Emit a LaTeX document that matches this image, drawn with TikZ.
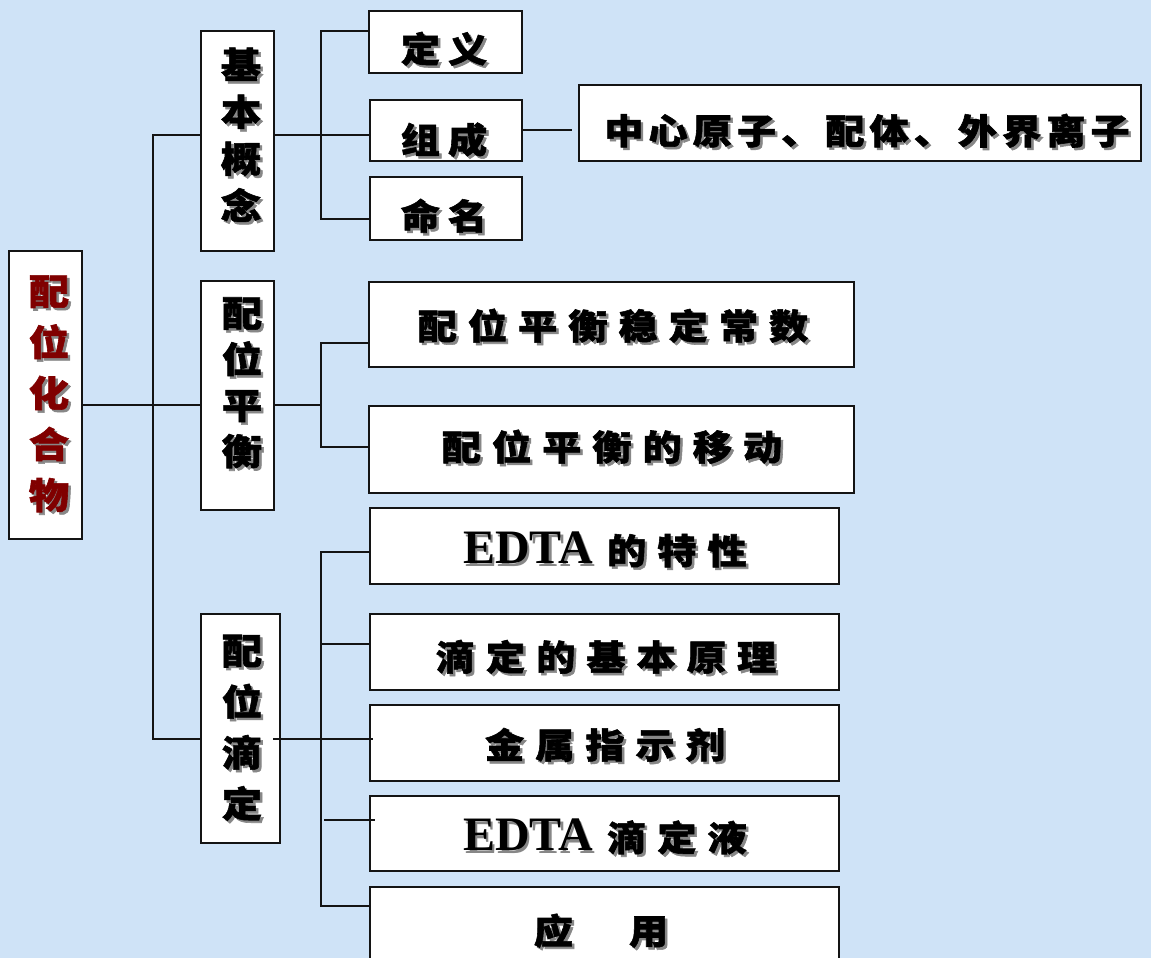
\documentclass[tikz,border=0pt]{standalone}
\usepackage{fontspec}
\setmainfont{Liberation Serif}
\newfontfamily\cjk{Noto Sans CJK SC}[BoldFont={Noto Sans CJK SC Black},BoldFeatures={FakeBold=1.6},FakeStretch=1.12]
\definecolor{bg}{RGB}{207,227,247}
\definecolor{shadowgray}{RGB}{135,135,135}
\definecolor{darkred}{RGB}{128,0,0}
\definecolor{edge}{RGB}{20,20,20}
\newlength\cgap \setlength\cgap{11pt}
\newcommand\sh[1]{\leavevmode\rlap{\kern2.5pt\raisebox{-2.5pt}{\color{shadowgray}#1}}#1}
\makeatletter
\def\spc#1{\spc@a#1\relax}
\def\spc@a#1#2\relax{\sh{#1}\ifx\relax#2\relax\else\hspace{\cgap}\spc@a#2\relax\fi}
\makeatother
\begin{document}
\begin{tikzpicture}[x=1pt,y=-1pt,
  box/.style={draw=edge, line width=1.6pt, fill=white, inner sep=0pt},
  ln/.style={line width=1.8pt, edge},
  lbl/.style={font=\cjk\bfseries\fontsize{35}{47}\selectfont, inner sep=0pt, align=center}]
\fill[bg] (0,0) rectangle (1151,958);
\useasboundingbox (0,0) rectangle (1151,958);
\clip (0,0) rectangle (1151,958);

% boxes
\node[box, minimum width=73pt, minimum height=288pt] (L) at (45.5,395) {};
\node[box, minimum width=73pt, minimum height=220pt] (A) at (237.5,141) {};
\node[box, minimum width=73pt, minimum height=229pt] (B) at (237.5,395.5) {};
\node[box, minimum width=79pt, minimum height=229pt] (C) at (240.5,728.5) {};
\node[box, minimum width=153pt, minimum height=62pt] (D1) at (445.5,42) {};
\node[box, minimum width=152pt, minimum height=61pt] (D2) at (446,130.5) {};
\node[box, minimum width=152pt, minimum height=63pt] (D3) at (446,208.5) {};
\node[box, minimum width=562pt, minimum height=76pt] (G) at (860,123) {};
\node[box, minimum width=485pt, minimum height=85pt] (E1) at (611.5,324.5) {};
\node[box, minimum width=485pt, minimum height=87pt] (E2) at (611.5,449.5) {};
\node[box, minimum width=469pt, minimum height=76pt] (F1) at (604.5,546) {};
\node[box, minimum width=469pt, minimum height=76pt] (F2) at (604.5,652) {};
\node[box, minimum width=469pt, minimum height=76pt] (F3) at (604.5,743) {};
\node[box, minimum width=469pt, minimum height=75pt] (F4) at (604.5,833.5) {};
\node[box, minimum width=469pt, minimum height=76pt] (F5) at (604.5,925) {};

% junction coordinates
\coordinate (t1) at (153,135);
\coordinate (t2) at (153,405);
\coordinate (t3) at (153,739);
\coordinate (s1a) at (321,31);
\coordinate (s1b) at (321,135);
\coordinate (s1c) at (321,219);
\coordinate (gend) at (572,130);
\coordinate (s2a) at (321,343);
\coordinate (s2b) at (321,405);
\coordinate (s2c) at (321,447);
\coordinate (s3a) at (321,552);
\coordinate (s3b) at (321,644);
\coordinate (s3c) at (321,739);
\coordinate (s3d) at (324,820);
\coordinate (s3e) at (321,906);
\coordinate (cstart) at (273,739);
\coordinate (f3end) at (373,739);
\coordinate (f4end) at (375,820);

% connectors
\draw[ln] (L.east |- t2) -- (B.west |- t2);
\draw[ln] (A.west |- t1) -- (t1) -- (t3) -- (C.west |- t3);
\draw[ln] (A.east |- s1b) -- (D2.west |- s1b);
\draw[ln] (D1.west |- s1a) -- (s1a) -- (s1c) -- (D3.west |- s1c);
\draw[ln] (D2.east |- gend) -- (gend);
\draw[ln] (B.east |- s2b) -- (s2b);
\draw[ln] (E1.west |- s2a) -- (s2a) -- (s2c) -- (E2.west |- s2c);
\draw[ln] (F1.west |- s3a) -- (s3a) -- (s3e) -- (F5.west |- s3e);
\draw[ln] (s3b) -- (F2.west |- s3b);
\draw[ln] (cstart) -- (f3end);
\draw[ln] (s3d) -- (f4end);

% labels
\node[lbl, text=darkred, font=\cjk\bfseries\fontsize{36}{51}\selectfont] (tL) at (49,395) {\sh{配}\\\sh{位}\\\sh{化}\\\sh{合}\\\sh{物}};
\node[lbl, font=\cjk\bfseries\fontsize{36}{47}\selectfont] (tA) at (241,136) {\sh{基}\\\sh{本}\\\sh{概}\\\sh{念}};
\node[lbl, font=\cjk\bfseries\fontsize{36}{46}\selectfont] (tB) at (242,384) {\sh{配}\\\sh{位}\\\sh{平}\\\sh{衡}};
\node[lbl, font=\cjk\bfseries\fontsize{36}{51}\selectfont] (tC) at (242,729) {\sh{配}\\\sh{位}\\\sh{滴}\\\sh{定}};
\node[lbl] (tD1) at (444,50) {\setlength\cgap{8pt}\spc{定义}};
\node[lbl] (tD2) at (444,141) {\setlength\cgap{8pt}\spc{组成}};
\node[lbl] (tD3) at (444,217) {\setlength\cgap{8pt}\spc{命名}};
\node[lbl] (tG) at (867,132) {\setlength\cgap{5pt}\spc{中心原子、配体、外界离子}};
\node[lbl] (tE1) at (613,327) {\spc{配位平衡稳定常数}};
\node[lbl] (tE2) at (612,448) {\spc{配位平衡的移动}};
\node[lbl] (tF1) at (605,551) {{\rmfamily\fontsize{48}{48}\selectfont\sh{EDTA}}\hspace{14pt}\spc{的特性}};
\node[lbl] (tF2) at (606,658) {\spc{滴定的基本原理}};
\node[lbl] (tF3) at (605,746) {\spc{金属指示剂}};
\node[lbl] (tF4) at (605,838) {{\rmfamily\fontsize{48}{48}\selectfont\sh{EDTA}}\hspace{14pt}\spc{滴定液}};
\node[lbl] (tF5) at (601,932) {\sh{应}\hspace{56pt}\sh{用}};
\end{tikzpicture}
\end{document}
